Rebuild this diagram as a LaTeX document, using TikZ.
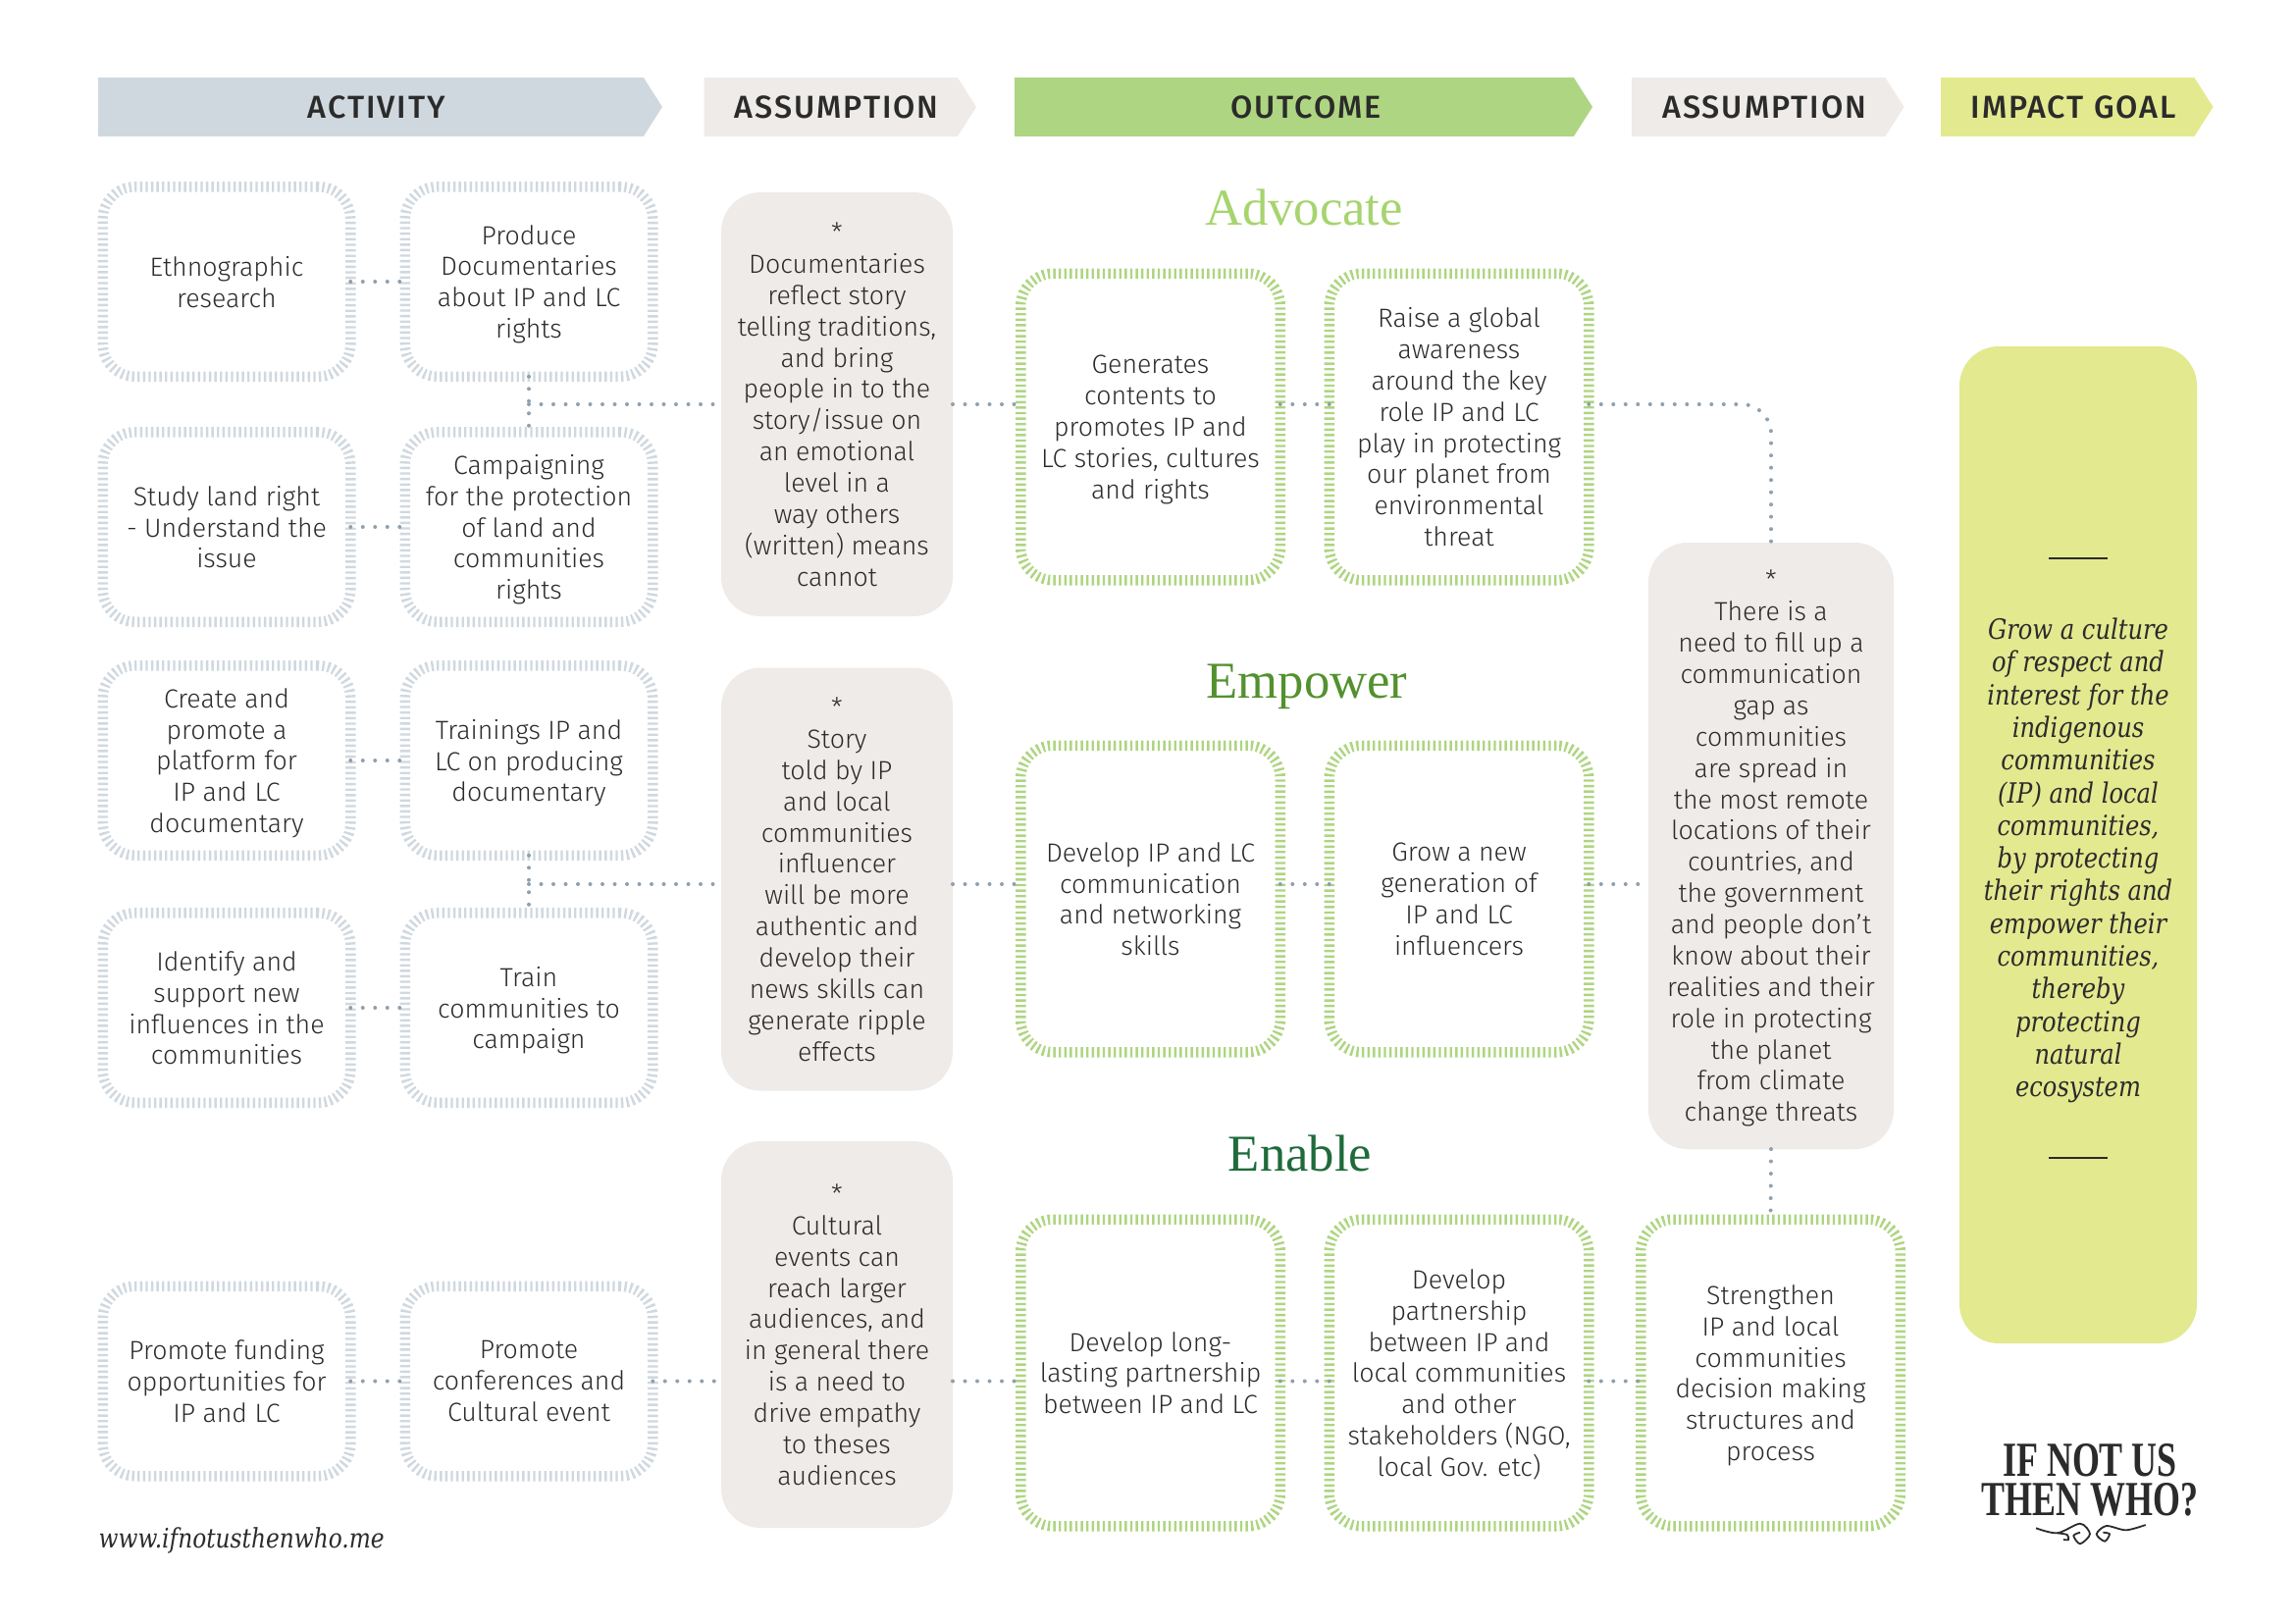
\documentclass[tikz,border=0pt]{standalone}
\usepackage{fontspec}
\setmainfont{Fira Sans Light}
\newfontfamily\headfont[LetterSpace=6]{Fira Sans Medium}
\newfontfamily\titlefont{Liberation Serif}
\newfontfamily\goalfont[FakeStretch=0.85]{DejaVu Serif}
\newfontfamily\logofont[FakeStretch=0.72]{Liberation Serif Bold}
\usetikzlibrary{positioning,shapes.symbols}
\definecolor{slate}{HTML}{D0D8DF}
\definecolor{dots}{HTML}{8FA0AE}
\definecolor{sand}{HTML}{EEEBE8}
\definecolor{leaf}{HTML}{AED581}
\definecolor{lime}{HTML}{E3E98F}
\definecolor{ink}{HTML}{2B2B2B}
\definecolor{advgreen}{HTML}{A6D46E}
\definecolor{empgreen}{HTML}{53912F}
\definecolor{enagreen}{HTML}{1F6B3A}

\begin{document}
\begin{tikzpicture}[
  head/.style={signal, signal to=east, signal pointer angle=115, anchor=west, inner sep=0, outer sep=0, minimum height=0.6cm, font=\headfont\fontsize{9.2pt}{11pt}\selectfont, text=ink, execute at begin node={\hspace*{0.12cm}}},
  body/.style={inner sep=0, outer sep=0, align=center, text depth=0pt, font=\fontsize{7.6pt}{9.07pt}\selectfont, text=ink},
  actbox/.style={body, draw=slate, line width=0.105cm, dash pattern=on 0.024cm off 0.032cm, rounded corners=0.33cm, minimum width=2.525cm, minimum height=1.935cm},
  outbox/.style={body, draw=leaf, line width=0.105cm, dash pattern=on 0.024cm off 0.032cm, rounded corners=0.33cm, minimum width=2.645cm, minimum height=3.125cm},
  assume/.style={body, fill=sand, rounded corners=0.4cm, minimum width=2.36cm},
  link/.style={draw=dots, line width=0.04cm, line cap=round, dash pattern=on 0pt off 0.125cm},
  ttl/.style={font=\titlefont\fontsize{15pt}{18pt}\selectfont}
]
\useasboundingbox (0,0) rectangle (23.39,-16.54);

% header bar
\node[head, fill=slate, minimum width=5.75cm] (hact) at (1.0,-1.09) {ACTIVITY};
\node[head, fill=sand, minimum width=2.775cm] (hass) at (7.175,-1.09) {ASSUMPTION};
\node[head, fill=leaf, minimum width=5.89cm] (hout) at (10.34,-1.09) {\hspace*{0.12cm}OUTCOME};
\node[head, fill=sand, minimum width=2.775cm] (hasb) at (16.63,-1.09) {ASSUMPTION};
\node[head, fill=lime, minimum width=2.775cm] (hgoal) at (19.78,-1.09) {IMPACT GOAL};

% activities
\node[actbox] (ethno) at (2.31,-2.87) {Ethnographic\\research};
\node[actbox, right=0.555cm of ethno] (docs) {Produce\\Documentaries\\about IP and LC\\rights};
\node[actbox] (land) at (2.31,-5.37) {Study land right\\- Understand the\\issue};
\node[actbox, right=0.555cm of land] (camp) {Campaigning\\for the protection\\of land and\\communities\\rights};
\node[actbox] (platform) at (2.31,-7.75) {Create and\\promote a\\platform for\\IP and LC\\documentary};
\node[actbox, right=0.555cm of platform] (train) {Trainings IP and\\LC on producing\\documentary};
\node[actbox] (influ) at (2.31,-10.27) {Identify and\\support new\\influences in the\\communities};
\node[actbox, right=0.555cm of influ] (commu) {Train\\communities to\\campaign};
\node[actbox] (fund) at (2.31,-14.075) {Promote funding\\opportunities for\\IP and LC};
\node[actbox, right=0.555cm of fund] (conf) {Promote\\conferences and\\Cultural event};

% assumptions
\node[assume, minimum height=4.32cm] (story) at (8.53,-4.12) {*\\Documentaries\\reflect story\\telling traditions,\\and bring\\people in to the\\story/issue on\\an emotional\\level in a\\way others\\(written) means\\cannot};
\node[assume, minimum height=4.31cm] (told) at (8.53,-8.96) {*\\Story\\told by IP\\and local\\communities\\influencer\\will be more\\authentic and\\develop their\\news skills can\\generate ripple\\effects};
\node[assume, minimum height=3.94cm] (event) at (8.53,-13.6) {*\\Cultural\\events can\\reach larger\\audiences, and\\in general there\\is a need to\\drive empathy\\to theses\\audiences};
\node[assume, minimum width=2.5cm, minimum height=6.18cm] (gap) at (18.05,-8.62) {*\\There is a\\need to fill up a\\communication\\gap as\\communities\\are spread in\\the most remote\\locations of their\\countries, and\\the government\\and people don't\\know about their\\realities and their\\role in protecting\\the planet\\from climate\\change threats};

% outcomes
\node[ttl, text=advgreen] (tadv) at (13.29,-2.11) {Advocate};
\node[ttl, text=empgreen] (temp) at (13.32,-7.0) {Empower};
\node[ttl, text=enagreen] (tena) at (13.25,-11.75) {Enable};
\node[outbox] (gen) at (11.725,-4.35) {Generates\\contents to\\promotes IP and\\LC stories, cultures\\and rights};
\node[outbox, right=0.5cm of gen] (raise) {Raise a global\\awareness\\around the key\\role IP and LC\\play in protecting\\our planet from\\environmental\\threat};
\node[outbox] (skill) at (11.725,-9.16) {Develop IP and LC\\communication\\and networking\\skills};
\node[outbox, right=0.5cm of skill] (grow) {Grow a new\\generation of\\IP and LC\\influencers};
\node[outbox] (long) at (11.725,-13.99) {Develop long-\\lasting partnership\\between IP and LC};
\node[outbox, right=0.5cm of long] (part) {Develop\\partnership\\between IP and\\local communities\\and other\\stakeholders (NGO,\\local Gov. etc)};
\node[outbox, right=0.53cm of part] (deci) {Strengthen\\IP and local\\communities\\decision making\\structures and\\process};

% goal
\node[fill=lime, rounded corners=0.4cm, minimum width=2.42cm, minimum height=10.16cm, inner sep=0, outer sep=0] (goal) at (21.18,-8.61) {};
\node[align=center, font=\goalfont\itshape\fontsize{8.1pt}{9.47pt}\selectfont, text=ink] (goaltxt) at (21.18,-8.77) {Grow a culture\\of respect and\\interest for the\\indigenous\\communities\\(IP) and local\\communities,\\by protecting\\their rights and\\empower their\\communities,\\thereby\\protecting\\natural\\ecosystem};
\coordinate (rulea) at (20.88,-5.69);
\coordinate (ruleb) at (21.48,-5.69);
\coordinate (rulec) at (20.88,-11.8);
\coordinate (ruled) at (21.48,-11.8);
\draw[ink, line width=0.02cm] (rulea) -- (ruleb);
\draw[ink, line width=0.02cm] (rulec) -- (ruled);

% connectors
\draw[link] (ethno) -- (docs);
\draw[link] (land) -- (camp);
\draw[link] (platform) -- (train);
\draw[link] (influ) -- (commu);
\draw[link] (fund) -- (conf);
\draw[link] (docs) -- coordinate[midway] (joina) (camp);
\draw[link] (train) -- coordinate[midway] (joinb) (commu);
\draw[link] (joina) -- (joina -| story.west);
\draw[link] (joinb) -- (joinb -| told.west);
\draw[link] (conf.east) -- (conf.east -| event.west);
\draw[link] (joina -| story.east) -- (joina -| gen.west);
\draw[link] (joina -| gen.east) -- (joina -| raise.west);
\draw[rounded corners=0.3cm, link] (joina -| raise.east) -| (gap.north);
\draw[link] (joinb -| told.east) -- (joinb -| skill.west);
\draw[link] (joinb -| skill.east) -- (joinb -| grow.west);
\draw[link] (joinb -| grow.east) -- (joinb -| gap.west);
\draw[link] (conf.east -| event.east) -- (conf.east -| long.west);
\draw[link] (conf.east -| long.east) -- (conf.east -| part.west);
\draw[link] (conf.east -| part.east) -- (conf.east -| deci.west);
\draw[link] (gap.south) -- (deci.north);

% footer
\node[anchor=west, inner sep=0, font=\goalfont\itshape\fontsize{7.8pt}{9pt}\selectfont, text=ink] (site) at (1.0,-15.7) {www.ifnotusthenwho.me};
\node[align=center, inner sep=0, font=\logofont\fontsize{14.2pt}{11.4pt}\selectfont, text=ink] (logo) at (21.3,-15.08) {IF NOT US\\THEN WHO?};
\draw[ink, line width=0.018cm] plot[smooth] coordinates {(20.75,-15.573) (20.967,-15.623) (21.2,-15.527) (21.3,-15.633) (21.2,-15.733) (21.133,-15.65) (21.2,-15.617)};
\draw[ink, line width=0.018cm] plot[smooth] coordinates {(20.967,-15.623) (21.067,-15.64) (21.08,-15.69) (21.03,-15.69)};
\draw[ink, line width=0.018cm] plot[smooth] coordinates {(21.867,-15.54) (21.667,-15.593) (21.467,-15.55) (21.367,-15.633) (21.45,-15.707) (21.5,-15.633) (21.433,-15.617)};
\end{tikzpicture}
\end{document}
